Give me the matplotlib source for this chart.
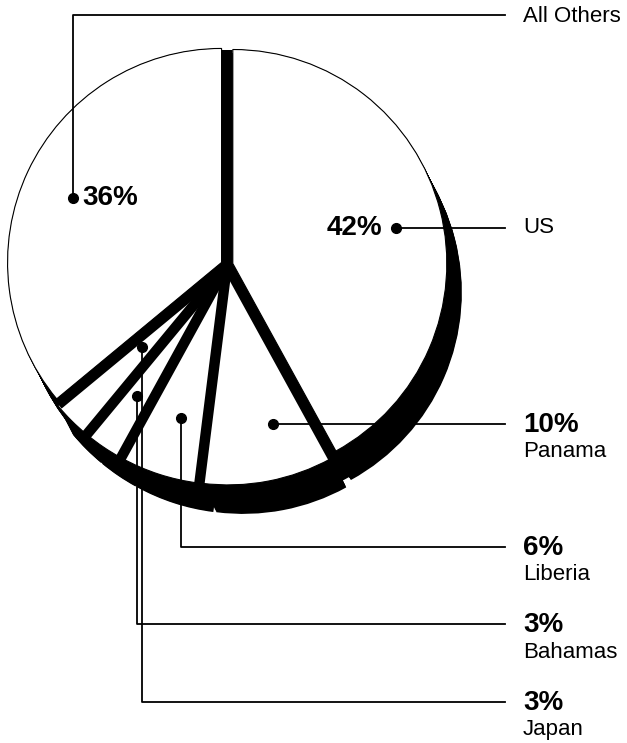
import numpy as np
import matplotlib.pyplot as plt
from matplotlib.patches import Wedge, Circle

# data
countries = ['US', 'Panama', 'Liberia', 'Bahamas', 'Japan', 'All Others']
shares = [42, 10, 6, 3, 3, 36]
pct_labels = ['42%', '10%', '6%', '3%', '3%', '36%']

# layout (pixels, image coords: y grows downward)
cx, cy, R = 227, 265, 214
explode = 6
shadow = (15, 29)
dot_pos = [(0.514, 0.78), (0.346, 0.745), (0.44, 0.72), (0.53, 0.715), (0.6, 0.525), (0.486, 0.757)]
label_y = [228, 423, 547, 624, 702, 15]
line_end = 505
text_x = 523

plt.rcParams['font.family'] = ['Liberation Sans', 'DejaVu Sans']
fig = plt.figure(figsize=(6.27, 7.43), dpi=100)
ax = fig.add_axes([0, 0, 1, 1])
ax.set_xlim(0, 627)
ax.set_ylim(743, 0)
ax.axis('off')

# angles, clockwise from 12 o'clock (visual, degrees ccw)
bounds = 90 - np.cumsum([0] + shares) / 100 * 360
starts, ends = bounds[:-1], bounds[1:]
mids = (starts + ends) / 2

def pt(x0, y0, r, a):
    return x0 + r * np.cos(np.radians(a)), y0 - r * np.sin(np.radians(a))

centers = [pt(cx, cy, explode, m) for m in mids]

# extruded shadows
steps = np.linspace(0, 1, 40)
for (ex, ey), a1, a2 in zip(centers, starts, ends):
    for k in steps:
        ax.add_patch(Wedge((ex + k * shadow[0], ey + k * shadow[1]), R, -a1, -a2,
                           facecolor='black', edgecolor='none', zorder=1))
for k in steps[:30]:
    ax.add_patch(Circle((cx + k * shadow[0], cy + k * shadow[1]), R - 2,
                        facecolor='black', edgecolor='none', zorder=1))

# white slices
for (ex, ey), a1, a2 in zip(centers, starts, ends):
    ax.add_patch(Wedge((ex, ey), R, -a1, -a2, facecolor='white',
                       edgecolor='black', linewidth=0.8, zorder=3))

# thick dividers between slices, running into the rim where it is visible
for b in bounds[:-1]:
    rad = np.radians(b)
    rim = shadow[0] * np.cos(rad) - shadow[1] * np.sin(rad)
    bx, by = pt(cx, cy, R + max(1, rim - 2), b)
    ax.plot([cx, bx], [cy, by], color='black', lw=7.5, solid_capstyle='butt', zorder=4)

# dots, leader lines, labels
lw = 1.3
for i, name in enumerate(countries):
    frac, rr = dot_pos[i]
    a = starts[i] + (ends[i] - starts[i]) * frac
    dx, dy = pt(centers[i][0], centers[i][1], R * rr, a)
    ax.plot(dx, dy, 'o', color='black', markersize=7, zorder=6)
    ly = label_y[i]
    if name == 'US':
        ax.plot([dx, line_end], [dy, dy], color='black', lw=lw, zorder=5)
        ax.text(dx - 14, dy, pct_labels[i], fontsize=20, fontweight='bold',
                ha='right', va='center', zorder=6)
        ax.text(text_x, dy, name, fontsize=16, ha='left', va='center')
    elif name == 'All Others':
        ax.plot([dx, dx, line_end], [dy, ly, ly], color='black', lw=lw, zorder=5)
        ax.text(dx + 9, dy, pct_labels[i], fontsize=20, fontweight='bold',
                ha='left', va='center', zorder=6)
        ax.text(text_x, ly + 2, name, fontsize=16, ha='left', va='center')
    else:
        if name == 'Panama':
            ax.plot([dx, line_end], [dy, dy], color='black', lw=lw, zorder=5)
            ly = dy
        else:
            ax.plot([dx, dx, line_end], [dy, ly, ly], color='black', lw=lw, zorder=5)
        ax.text(text_x, ly + 1, pct_labels[i], fontsize=20, fontweight='bold',
                ha='left', va='center')
        ax.text(text_x, ly + 28, name, fontsize=16, ha='left', va='center')

fig.savefig('out.png', dpi=100)
